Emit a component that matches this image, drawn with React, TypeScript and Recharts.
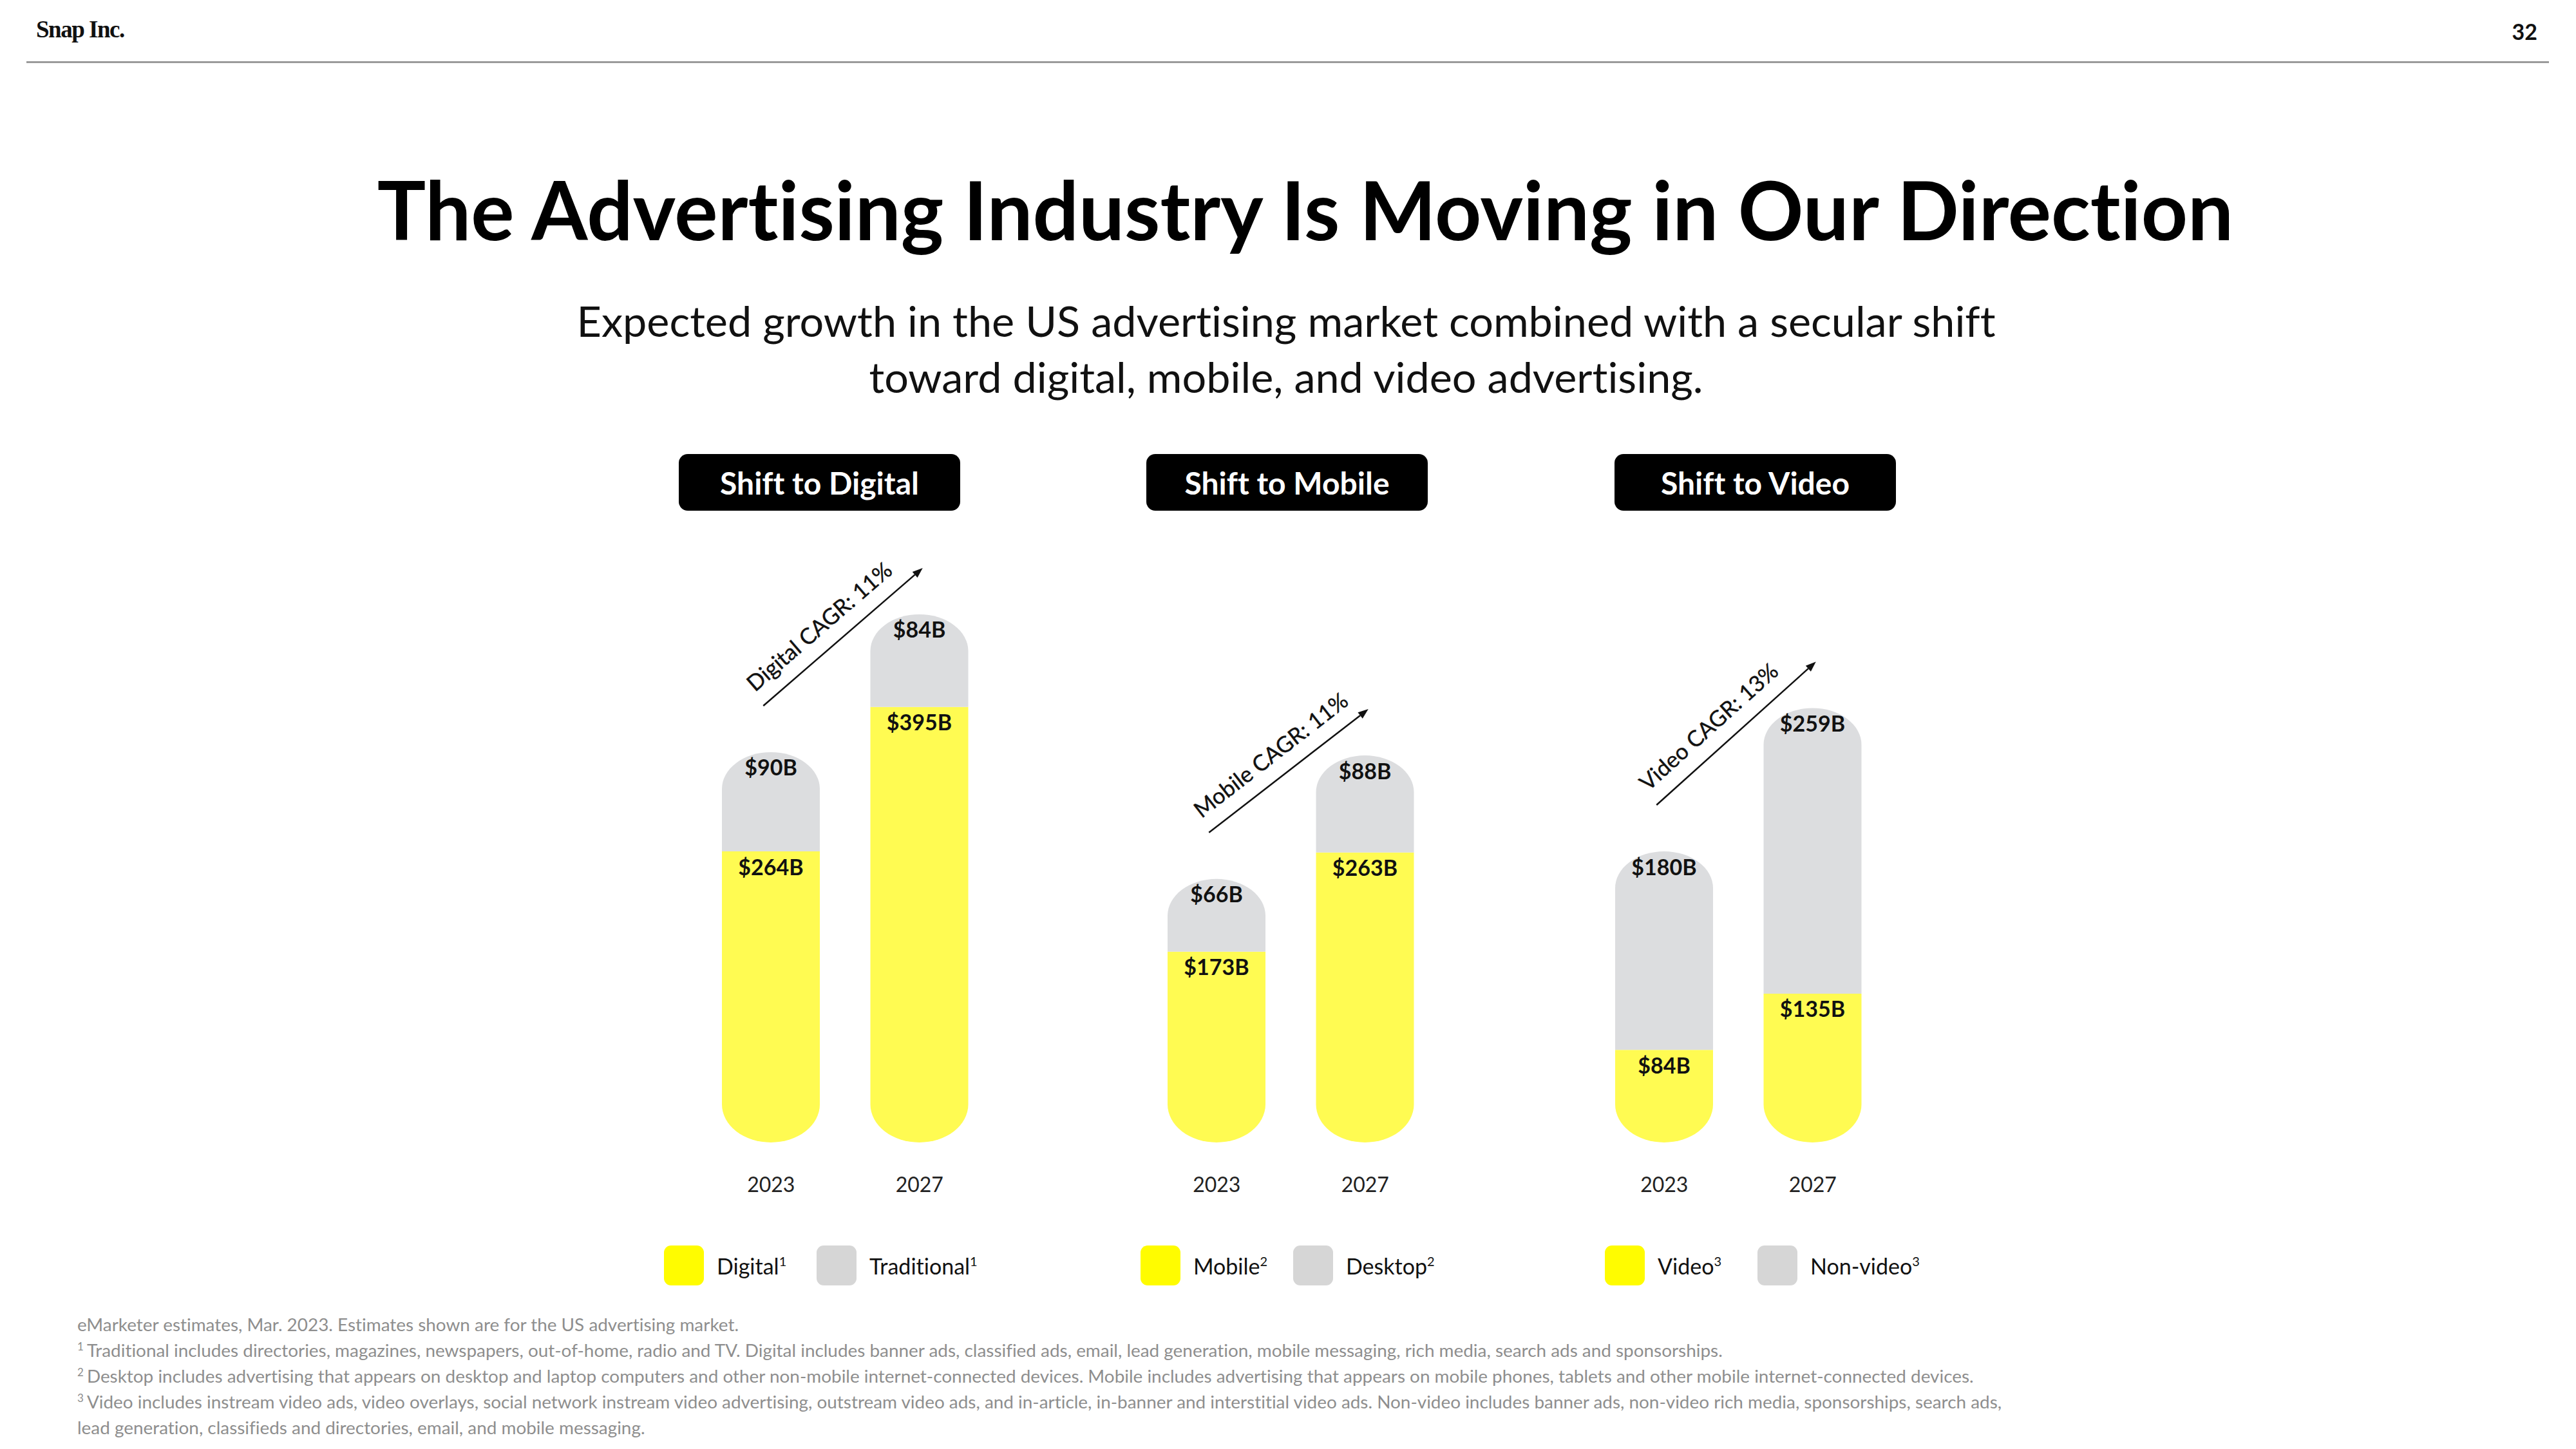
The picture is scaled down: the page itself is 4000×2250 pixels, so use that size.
import React from 'react';
import { BarChart, Bar, XAxis, YAxis, LabelList, ReferenceLine, Legend } from 'recharts';

const years = ['2023', '2027'];

// US ad spend, $B
const digitalSpend = [264, 395];
const traditionalSpend = [90, 84];
const mobileSpend = [173, 263];
const desktopSpend = [66, 88];
const videoSpend = [84, 135];
const nonVideoSpend = [180, 259];

const panelTitles = ['Shift to Digital', 'Shift to Mobile', 'Shift to Video'];
const cagrLabels = ['Digital CAGR: 11%', 'Mobile CAGR: 11%', 'Video CAGR: 13%'];
const seriesNames = [
  ['Digital', 'Traditional'],
  ['Mobile', 'Desktop'],
  ['Video', 'Non-video'],
];
const footnoteMarks = ['1', '2', '3'];

const footnotes = [
  { mark: '', text: 'eMarketer estimates, Mar. 2023. Estimates shown are for the US advertising market.' },
  { mark: '1', text: 'Traditional includes directories, magazines, newspapers, out-of-home, radio and TV. Digital includes banner ads, classified ads, email, lead generation, mobile messaging, rich media, search ads and sponsorships.' },
  { mark: '2', text: 'Desktop includes advertising that appears on desktop and laptop computers and other non-mobile internet-connected devices. Mobile includes advertising that appears on mobile phones, tablets and other mobile internet-connected devices.' },
  { mark: '3', text: 'Video includes instream video ads, video overlays, social network instream video advertising, outstream video ads, and in-article, in-banner and interstitial video ads. Non-video includes banner ads, non-video rich media, sponsorships, search ads,' },
  { mark: '', text: 'lead generation, classifieds and directories, email, and mobile messaging.' },
];

const YELLOW = '#FFFB52';
const GRAY = '#DCDDDF';
const LEGEND_YELLOW = '#FFFC00';
const LEGEND_GRAY = '#D6D6D6';
const FONT = 'Lato, "Open Sans", sans-serif';

// layout
const axisLefts = [1082, 1774, 2469];
const pillLefts = [1054, 1780, 2507];
const legendLefts = [1031, 1771, 2492];
const PLOT_W = 461;
const SIDE = 90;
const CHART_TOP = 788;

const BottomCap = (props: any) => {
  const { x, y, width, height, fill } = props;
  if (!height || height <= 0) return null;
  const rx = width / 2;
  const ry = Math.min(rx * 0.78, height);
  const d = `M${x},${y} H${x + width} V${y + height - ry} A${rx},${ry} 0 0 1 ${x},${y + height - ry} Z`;
  return <path d={d} fill={fill} />;
};

const TopCap = (props: any) => {
  const { x, y, width, height, fill } = props;
  if (!height || height <= 0) return null;
  const rx = width / 2;
  const ry = Math.min(rx * 0.75, height);
  const d = `M${x},${y + height} V${y + ry} A${rx},${ry} 0 0 1 ${x + width},${y + ry} V${y + height} Z`;
  return <path d={d} fill={fill} />;
};

const valueLabel = (props: any) => {
  const { x, y, width, value } = props;
  return (
    <text
      x={x + width / 2}
      y={y + 23}
      textAnchor="middle"
      dominantBaseline="central"
      fontFamily={FONT}
      fontSize={34}
      fontWeight={700}
      fill="#111"
    >
      {`$${value}B`}
    </text>
  );
};

function CagrArrow({ x1, y1, x2, y2, text }: any) {
  const lift = 72;
  const sx = x1 - 12;
  const sy = y1 - lift;
  const ex = x2 + 5;
  const ey = y2 - lift;
  const ang = Math.atan2(ey - sy, ex - sx);
  const deg = (ang * 180) / Math.PI;
  const head = 16;
  const bx = ex - head * Math.cos(ang);
  const by = ey - head * Math.sin(ang);
  const px = -Math.sin(ang) * 6;
  const py = Math.cos(ang) * 6;
  return (
    <g>
      <line x1={sx} y1={sy} x2={bx} y2={by} stroke="#111" strokeWidth={2.5} />
      <polygon points={`${ex},${ey} ${bx + px},${by + py} ${bx - px},${by - py}`} fill="#111" />
      <text
        transform={`translate(${sx},${sy}) rotate(${deg})`}
        x={4}
        y={-24}
        fontFamily={FONT}
        fontSize={34.5}
        fill="#111"
        stroke="#111"
        strokeWidth={0.4}
      >
        {text}
      </text>
    </g>
  );
}

const makeLegend = (names: string[], mark: string, colors: string[]) => (props: any) => {
  const items = [...(props.payload || [])].sort(
    (a: any, b: any) => names.indexOf(a.value) - names.indexOf(b.value)
  );
  return (
    <div style={{ display: 'flex', boxSizing: 'border-box', height: 130, paddingTop: 60, fontFamily: FONT }}>
      {items.map((item: any, i: number) => (
        <div key={item.value} style={{ display: 'flex', alignItems: 'center', width: i === 0 ? 237 : 'auto', height: 62 }}>
          <div style={{ width: 62, height: 62, borderRadius: 11, background: colors[i], marginRight: 20 }} />
          <span style={{ fontSize: 34, color: '#111', whiteSpace: 'nowrap' }}>
            {item.value}
            <span style={{ fontSize: 20, position: 'relative', top: -13 }}>{mark}</span>
          </span>
        </div>
      ))}
    </div>
  );
};

function Panel({ idx, lower, upper }: { idx: number; lower: number[]; upper: number[] }) {
  const data = years.map((year, i) => ({
    year,
    lower: lower[i],
    upper: upper[i],
    total: lower[i] + upper[i],
  }));
  const chartLeft = axisLefts[idx] - SIDE;
  const cagr = cagrLabels[idx];

  return (
    <>
      <div
        style={{
          position: 'absolute',
          left: pillLefts[idx],
          top: 705,
          width: 437,
          height: 88,
          background: '#000',
          borderRadius: 14,
          color: '#fff',
          fontFamily: FONT,
          fontWeight: 700,
          fontSize: 48,
          display: 'flex',
          alignItems: 'center',
          justifyContent: 'center',
        }}
      >
        {panelTitles[idx]}
      </div>
      <div style={{ position: 'absolute', left: chartLeft, top: CHART_TOP }}>
        <BarChart
          width={PLOT_W + SIDE * 2}
          height={1216}
          data={data}
          margin={{ top: 130, right: SIDE, left: SIDE, bottom: 0 }}
          barSize={152}
          style={{ overflow: 'visible' }}
        >
          <XAxis
            dataKey="year"
            height={100}
            axisLine={false}
            tickLine={false}
            tickMargin={48}
            tick={{ fontFamily: FONT, fontSize: 32, fill: '#222' }}
          />
          <YAxis hide domain={[0, 500]} />
          <Legend
            verticalAlign="bottom"
            content={makeLegend(seriesNames[idx], footnoteMarks[idx], [LEGEND_YELLOW, LEGEND_GRAY])}
            wrapperStyle={{ left: legendLefts[idx] - chartLeft, width: 700 }}
          />
          <Bar dataKey="lower" name={seriesNames[idx][0]} stackId="s" fill={YELLOW} shape={BottomCap} isAnimationActive={false}>
            <LabelList dataKey="lower" content={valueLabel} />
          </Bar>
          <Bar dataKey="upper" name={seriesNames[idx][1]} stackId="s" fill={GRAY} shape={TopCap} isAnimationActive={false}>
            <LabelList dataKey="upper" content={valueLabel} />
          </Bar>
          <ReferenceLine
            segment={[
              { x: years[0], y: data[0].total },
              { x: years[1], y: data[1].total },
            ]}
            ifOverflow="visible"
            shape={(p: any) => <CagrArrow {...p} text={cagr} />}
          />
        </BarChart>
      </div>
    </>
  );
}

export default function App() {
  return (
    <div
      style={{
        position: 'relative',
        width: 4000,
        height: 2250,
        overflow: 'hidden',
        background: '#fff',
        fontFamily: FONT,
        fontVariantLigatures: 'none',
      }}
    >
      <style>{'body{margin:0}'}</style>

      <div
        style={{
          position: 'absolute',
          left: 56,
          top: 27,
          fontFamily: '"Liberation Serif", serif',
          fontWeight: 700,
          fontSize: 37,
          lineHeight: 1,
          letterSpacing: -1.5,
          color: '#111',
        }}
      >
        Snap Inc.
      </div>
      <div
        style={{ position: 'absolute', right: 60, top: 32, fontSize: 34, fontWeight: 700, lineHeight: 1, color: '#111' }}
      >
        32
      </div>
      <div style={{ position: 'absolute', left: 41, top: 95, width: 3917, height: 3, background: '#9a9a9a' }} />

      <div
        style={{
          position: 'absolute',
          left: 27,
          width: 4000,
          top: 262,
          textAlign: 'center',
          fontSize: 126,
          fontWeight: 700,
          lineHeight: 1,
          color: '#000',
        }}
      >
        The Advertising Industry Is Moving in Our Direction
      </div>
      <div
        style={{
          position: 'absolute',
          left: 0,
          width: 3994,
          top: 454,
          textAlign: 'center',
          fontSize: 66.5,
          lineHeight: '87px',
          color: '#111',
        }}
      >
        Expected growth in the US advertising market combined with a secular shift
        <br />
        toward digital, mobile, and video advertising.
      </div>

      <Panel idx={0} lower={digitalSpend} upper={traditionalSpend} />
      <Panel idx={1} lower={mobileSpend} upper={desktopSpend} />
      <Panel idx={2} lower={videoSpend} upper={nonVideoSpend} />

      <div
        style={{
          position: 'absolute',
          left: 120,
          top: 2036,
          fontSize: 27.9,
          lineHeight: '40px',
          color: '#8e8e8e',
          whiteSpace: 'nowrap',
        }}
      >
        {footnotes.map((f, i) => (
          <div key={i} style={{ height: 40 }}>
            {f.mark && (
              <span style={{ fontSize: 17, position: 'relative', top: -10, marginRight: 5, lineHeight: 0 }}>{f.mark}</span>
            )}
            {f.text}
          </div>
        ))}
      </div>
    </div>
  );
}
